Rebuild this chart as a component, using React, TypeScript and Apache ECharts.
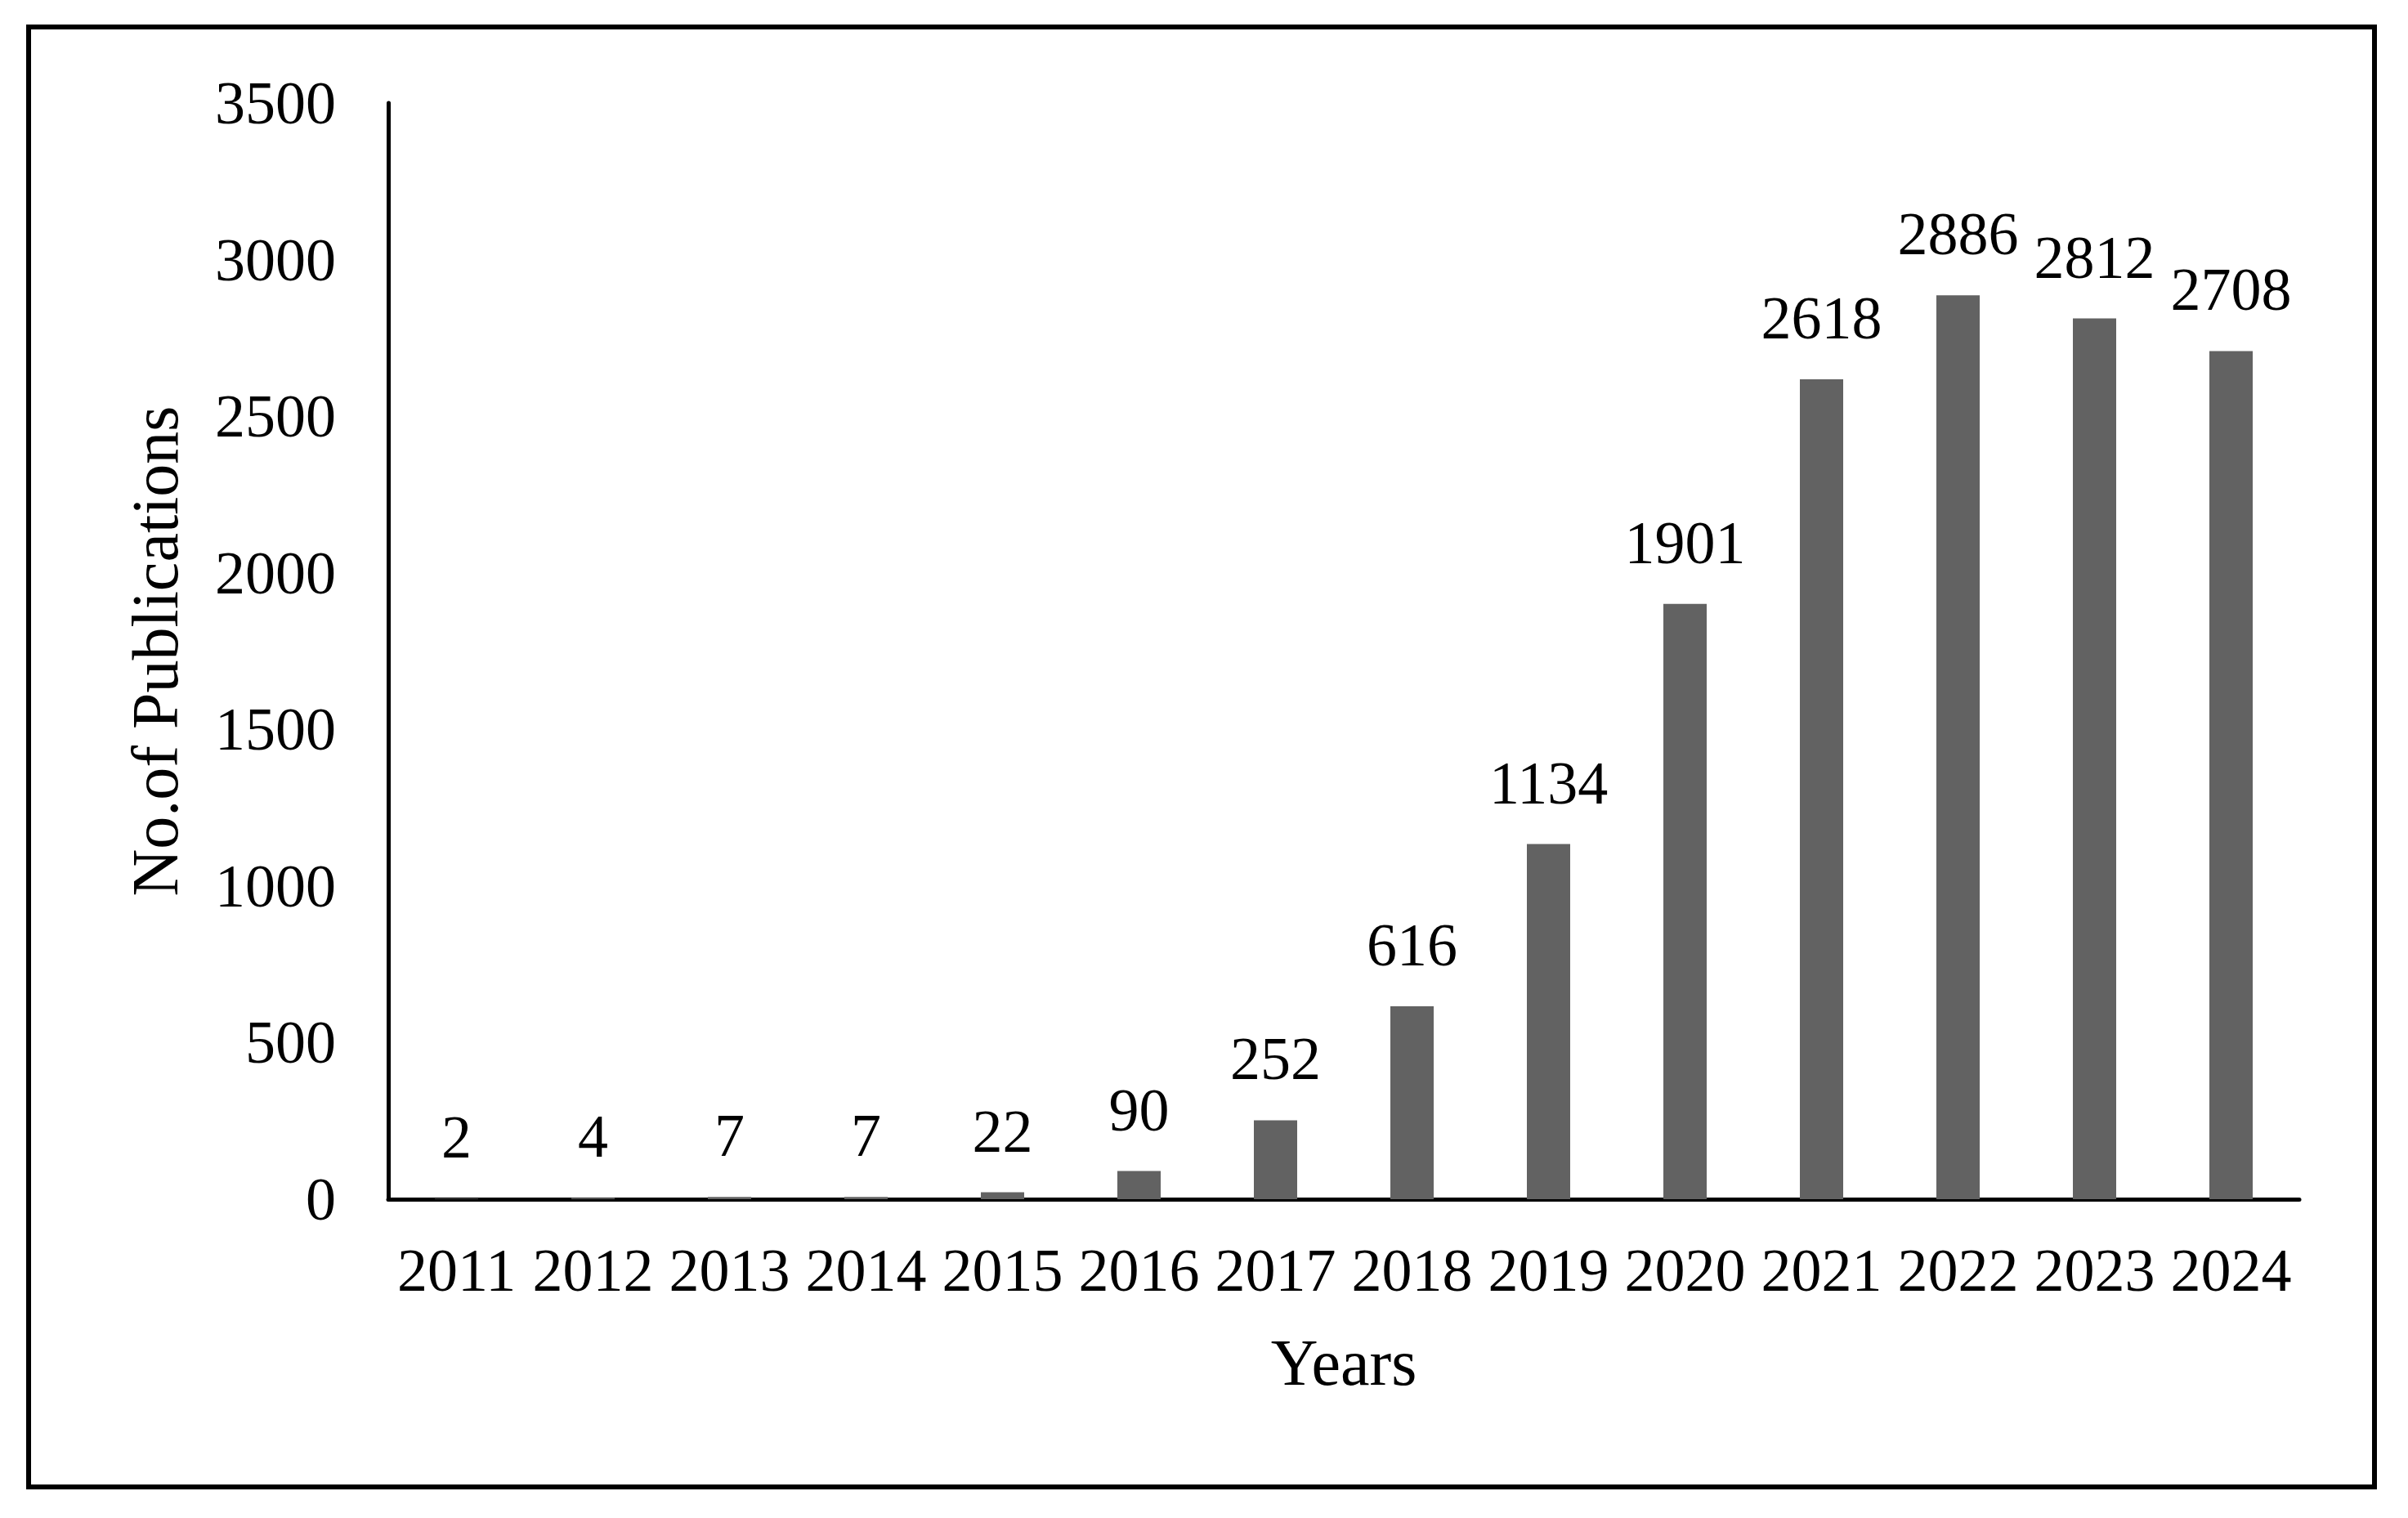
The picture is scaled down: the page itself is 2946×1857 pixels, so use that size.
import React, { useEffect, useRef } from "react";
import * as echarts from "echarts";

const years = ["2011", "2012", "2013", "2014", "2015", "2016", "2017", "2018", "2019", "2020", "2021", "2022", "2023", "2024"];
const publications = [2, 4, 7, 7, 22, 90, 252, 616, 1134, 1901, 2618, 2886, 2812, 2708];
const yMin = 0;
const yMax = 3500;
const yStep = 500;
const xTitle = "Years";
const yTitle = "No.of Publications";

const FONT = '"Liberation Serif", "Times New Roman", serif';

export default function App() {
  const ref = useRef<HTMLDivElement>(null);
  useEffect(() => {
    if (!ref.current) return;
    const chart = echarts.init(ref.current, undefined, { renderer: "svg" });
    chart.setOption({
      animation: false,
      backgroundColor: "#ffffff",
      textStyle: { fontFamily: FONT, color: "#000" },
      graphic: [
        {
          type: "rect",
          shape: { x: 35, y: 33, width: 2870, height: 1786 },
          style: { fill: "none", stroke: "#000", lineWidth: 6 },
          silent: true,
        },
      ],
      grid: { left: 475, right: 133, top: 126, bottom: 390, containLabel: false },
      xAxis: {
        type: "category",
        data: years,
        name: xTitle,
        nameLocation: "middle",
        nameGap: 160,
        nameTextStyle: { fontFamily: FONT, fontSize: 80, color: "#000" },
        axisLine: { show: true, lineStyle: { color: "#000", width: 5 } },
        axisTick: { show: false },
        axisLabel: { fontFamily: FONT, fontSize: 74, color: "#000", margin: 50, interval: 0 },
        splitLine: { show: false },
      },
      yAxis: {
        type: "value",
        min: yMin,
        max: yMax,
        interval: yStep,
        name: yTitle,
        nameLocation: "middle",
        nameRotate: 90,
        nameGap: 245,
        nameTextStyle: { fontFamily: FONT, fontSize: 80, color: "#000" },
        axisLine: { show: true, lineStyle: { color: "#000", width: 5 } },
        axisTick: { show: false },
        axisLabel: {
          fontFamily: FONT,
          fontSize: 74,
          color: "#000",
          margin: 64,
          formatter: (v: number) => String(v),
        },
        splitLine: { show: false },
      },
      series: [
        {
          type: "bar",
          data: publications,
          barWidth: 53,
          itemStyle: { color: "#626262" },
          label: {
            show: true,
            position: "top",
            distance: 38,
            fontFamily: FONT,
            fontSize: 74,
            color: "#000",
          },
        },
      ],
    });
    return () => chart.dispose();
  }, []);
  return (
    <div
      ref={ref}
      style={{ position: "fixed", left: 0, top: 0, width: 2946, height: 1857, background: "#fff" }}
    />
  );
}
